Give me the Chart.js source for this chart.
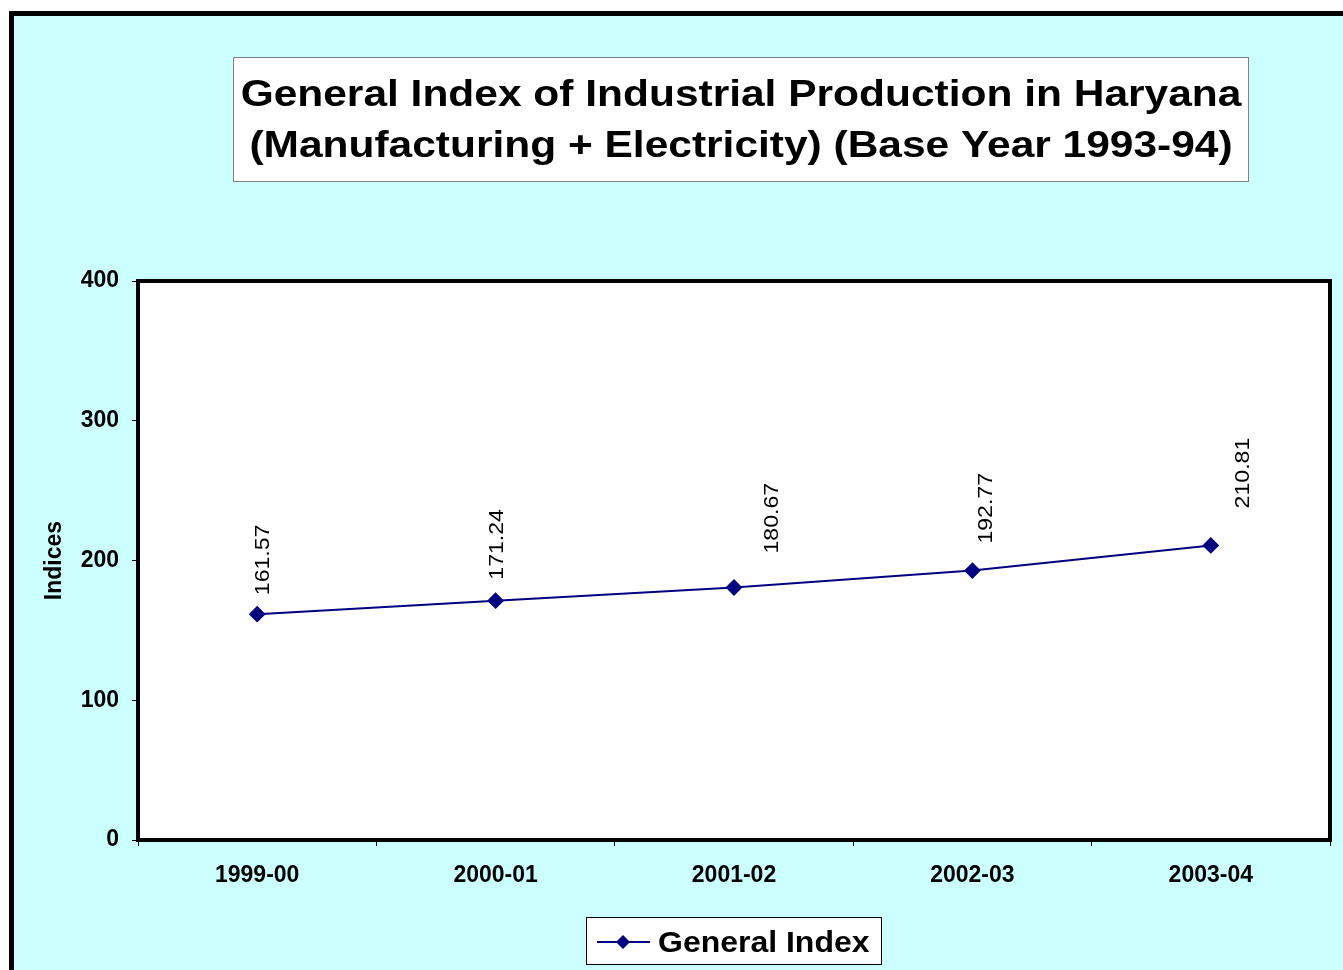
<!DOCTYPE html>
<html>
<head>
<meta charset="utf-8">
<script src="https://cdn.jsdelivr.net/npm/chart.js@4"></script>
<style>
  html, body { margin: 0; padding: 0; background: #fff; }
  canvas { display: block; }
</style>
</head>
<body>
<canvas id="chart" width="1343" height="970"></canvas>
<script>
const years = ['1999-00', '2000-01', '2001-02', '2002-03', '2003-04'];
const generalIndex = [161.57, 171.24, 180.67, 192.77, 210.81];
const yTicks = [0, 100, 200, 300, 400];
const titleLines = ['General Index of Industrial Production in Haryana', '(Manufacturing + Electricity) (Base Year 1993-94)'];
const seriesName = 'General Index';
// where each value label sits relative to its point (Excel placed them unevenly)
const labelOffsets = [[6, -19], [2, -21], [38, -34], [14, -27], [32, -37]];

const FONT = '"Liberation Sans", Arial, sans-serif';
const NAVY = '#000080';

// Excel's text renders a bit wider than Liberation Sans, so stretch it
function wideText(ctx, text, x, y, sx) {
  ctx.save();
  ctx.translate(x, y);
  ctx.scale(sx, 1);
  ctx.fillText(text, 0, 0);
  ctx.restore();
}

const backdrop = {
  id: 'backdrop',
  beforeDraw(chart) {
    const ctx = chart.ctx;
    const a = chart.chartArea;
    ctx.save();
    ctx.fillStyle = '#fff';
    ctx.fillRect(0, 0, chart.width, chart.height);
    ctx.fillStyle = '#CCFFFF';
    ctx.fillRect(9, 11, chart.width, chart.height);
    ctx.fillStyle = '#000';
    ctx.fillRect(9, 11, 5, chart.height);
    ctx.fillRect(9, 11, chart.width, 5);
    ctx.fillStyle = '#fff';
    ctx.fillRect(a.left, a.top, a.right - a.left, a.bottom - a.top);

    // title box
    ctx.fillStyle = '#fff';
    ctx.fillRect(233.5, 57.5, 1015, 124);
    ctx.strokeStyle = '#808080';
    ctx.lineWidth = 1;
    ctx.strokeRect(233.5, 57.5, 1015, 124);
    ctx.fillStyle = '#000';
    ctx.font = 'bold 37px ' + FONT;
    ctx.textAlign = 'center';
    ctx.textBaseline = 'middle';
    wideText(ctx, titleLines[0], 741, 96, 1.148);
    wideText(ctx, titleLines[1], 741, 147, 1.148);
    ctx.restore();
  },
  afterDraw(chart) {
    const ctx = chart.ctx;
    const a = chart.chartArea;
    ctx.save();
    // plot frame
    ctx.strokeStyle = '#000';
    ctx.lineWidth = 4;
    ctx.strokeRect(a.left, a.top, a.right - a.left, a.bottom - a.top);

    // value labels
    const meta = chart.getDatasetMeta(0);
    ctx.fillStyle = '#000';
    ctx.font = '21px ' + FONT;
    ctx.textAlign = 'left';
    ctx.textBaseline = 'middle';
    meta.data.forEach((pt, i) => {
      const [dx, dy] = labelOffsets[i];
      ctx.save();
      ctx.translate(pt.x + dx, pt.y + dy);
      ctx.rotate(-Math.PI / 2);
      wideText(ctx, generalIndex[i].toFixed(2), 0, 0, 1.1);
      ctx.restore();
    });

    // legend
    ctx.fillStyle = '#fff';
    ctx.fillRect(586.5, 917.5, 295, 47);
    ctx.strokeStyle = '#000';
    ctx.lineWidth = 1;
    ctx.strokeRect(586.5, 917.5, 295, 47);
    ctx.strokeStyle = NAVY;
    ctx.lineWidth = 2;
    ctx.beginPath();
    ctx.moveTo(597, 942);
    ctx.lineTo(650, 942);
    ctx.stroke();
    ctx.fillStyle = NAVY;
    ctx.beginPath();
    ctx.moveTo(623, 935);
    ctx.lineTo(630, 942);
    ctx.lineTo(623, 949);
    ctx.lineTo(616, 942);
    ctx.closePath();
    ctx.fill();
    ctx.fillStyle = '#000';
    ctx.font = 'bold 30px ' + FONT;
    ctx.textAlign = 'left';
    wideText(ctx, seriesName, 658, 944, 1.066);
    ctx.restore();
  }
};

const tickFont = { family: FONT, size: 23, weight: 'bold' };

new Chart(document.getElementById('chart'), {
  type: 'line',
  data: {
    labels: years,
    datasets: [{
      label: seriesName,
      data: generalIndex,
      borderColor: NAVY,
      backgroundColor: NAVY,
      borderWidth: 2,
      pointStyle: 'rectRot',
      pointRadius: 7,
      pointHoverRadius: 7,
      tension: 0
    }]
  },
  options: {
    responsive: false,
    animation: false,
    events: [],
    layout: { padding: { left: 0, top: 281, right: 13, bottom: 0 } },
    plugins: {
      legend: { display: false },
      title: { display: false },
      tooltip: { enabled: false }
    },
    scales: {
      x: {
        offset: true,
        grid: { offset: true, drawOnChartArea: false, drawTicks: true, tickLength: 6, color: '#000' },
        border: { display: false },
        ticks: { color: '#000', font: tickFont, padding: 16, maxRotation: 0 },
        afterFit(scale) { scale.height = 130; }
      },
      y: {
        min: 0,
        max: 400,
        afterBuildTicks(scale) { scale.ticks = yTicks.map(v => ({ value: v })); },
        grid: { drawOnChartArea: false, drawTicks: true, tickLength: 6, color: '#000' },
        border: { display: false },
        ticks: { color: '#000', font: tickFont, padding: 13 },
        title: {
          display: true,
          text: 'Indices',
          color: '#000',
          font: tickFont,
          padding: { top: 41, bottom: 0 }
        },
        afterFit(scale) { scale.width = 138; }
      }
    }
  },
  plugins: [backdrop]
});
</script>
</body>
</html>
